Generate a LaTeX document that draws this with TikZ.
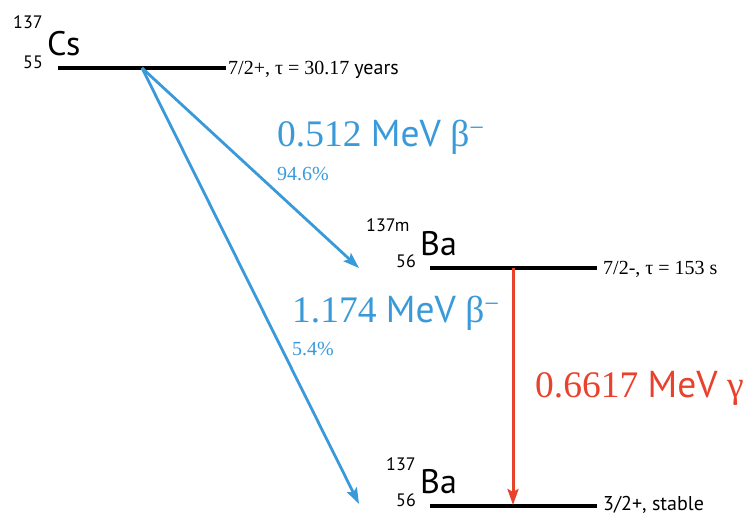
\documentclass[tikz,border=0pt]{standalone}
\usepackage{fontspec}
\setmainfont{Liberation Serif}
\setsansfont{PT Sans}
\usetikzlibrary{arrows.meta}
\definecolor{decayblue}{RGB}{58,154,217}
\definecolor{decayred}{RGB}{232,65,44}
\begin{document}
\begin{tikzpicture}[x=1pt,y=-1pt,
 level/.style={line width=3.2pt, black},
 betaarrow/.style={line width=2.8pt, decayblue, -{Stealth[length=16pt,width=11pt,inset=3pt]}},
 gammaarrow/.style={line width=3pt, decayred, -{Stealth[length=16pt,width=11pt,inset=3pt]}},
 txt/.style={inner sep=0pt, anchor=base west},
 elem/.style={txt, font=\sffamily\fontsize{34}{34}\selectfont},
 iso/.style={txt, font=\sffamily\fontsize{18}{18}\selectfont},
 spin/.style={txt, font=\fontsize{20}{20}\selectfont},
 energy/.style={txt, font=\fontsize{37.5}{37.5}\selectfont},
 branch/.style={txt, font=\fontsize{20}{20}\selectfont, text=decayblue},
]
\useasboundingbox (0,0) rectangle (749,515);
% levels
\coordinate (csL) at (58,68); \coordinate (csR) at (226,68);
\coordinate (bamL) at (430,268); \coordinate (bamR) at (597,268);
\coordinate (baL) at (430,506); \coordinate (baR) at (597,506);
\draw[level] (csL) -- (csR);
\draw[level] (bamL) -- (bamR);
\draw[level] (baL) -- (baR);
% nuclide labels
\node[iso] (csA) at (13,28) {137};
\node[iso] (csZ) at (23,68) {55};
\node[elem] (cs) at (47,55) {Cs};
\node[iso] (bamA) at (366,231) {137m};
\node[iso] (bamZ) at (396,267) {56};
\node[elem] (bam) at (420,255) {Ba};
\node[iso] (baA) at (386,470) {137};
\node[iso] (baZ) at (396,506) {56};
\node[elem] (ba) at (420,493) {Ba};
% spin labels
\node[spin] (csS) at (228,74) {7/2+, τ = 30.17 {\sffamily years}};
\node[spin] (bamS) at (603,274) {7/2-, τ = 153 s};
\node[spin, font=\sffamily\fontsize{20}{20}\selectfont] (baS) at (603,510) {3/2+, stable};
% transitions
\coordinate (csO) at (142,68);
\coordinate (t1) at (359,268);
\coordinate (t2) at (359,504);
\coordinate (gS) at (513,268);
\coordinate (gE) at (513,505);
\draw[betaarrow] (csO) -- (t1);
\draw[betaarrow] (csO) -- (t2);
\draw[gammaarrow] (gS) -- (gE);
% energy labels
\node[energy, text=decayblue] (e1) at (277,146) {0.512 {\sffamily MeV} β\textsuperscript{−}};
\node[branch] (b1) at (277,180) {94.6\%};
\node[energy, text=decayblue] (e2) at (292,322) {1.174 {\sffamily MeV} β\textsuperscript{−}};
\node[branch] (b2) at (292,355) {5.4\%};
\node[energy, text=decayred] (e3) at (535,397) {0.6617 {\sffamily MeV} γ};
\end{tikzpicture}
\end{document}
